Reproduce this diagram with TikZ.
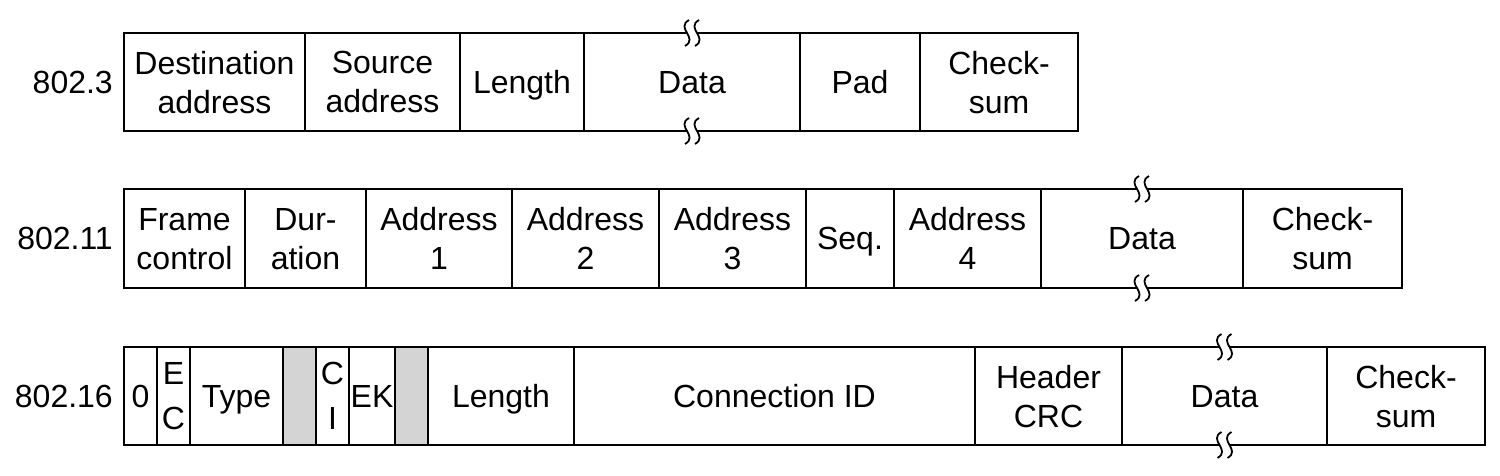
\documentclass[tikz,border=0pt]{standalone}
\usepackage{fontspec}
\setmainfont{Liberation Sans}
\definecolor{unusedgray}{RGB}{212,212,212}
\tikzset{
  brk/.pic={
    \fill[white] (-3,-13) .. controls (-17,-5) and (7,5) .. (-7,13)
      -- (3,13) .. controls (17,5) and (-7,-5) .. (7,-13) -- cycle;
    \draw[line width=1.8pt] (-3,-13) .. controls (-17,-5) and (7,5) .. (-7,13);
    \draw[line width=1.8pt] (7,-13) .. controls (-7,-5) and (17,5) .. (3,13);
  }
}
\begin{document}
\begin{tikzpicture}[x=1pt,y=-1pt,
    field/.style={draw, line width=1.6pt, anchor=west, minimum height=98, inner sep=0pt, outer sep=0pt, align=center, text depth=0pt, font=\fontsize{32}{39}\selectfont},
    tag/.style={anchor=east, inner sep=0pt, font=\fontsize{32}{39}\selectfont},
    unused/.style={fill=unusedgray}]
    \useasboundingbox (0,0) rectangle (1500,476);

    % 802.3
    \node[tag] (r1) at (113,82) {802.3};
    \node[field, minimum width=181] (dst) at (124,82) {Destination\\address};
    \node[field, minimum width=155] (src) at (305,82) {Source\\address};
    \node[field, minimum width=124] (len1) at (460,82) {Length};
    \node[field, minimum width=216] (data1) at (584,82) {Data};
    \node[field, minimum width=120] (pad) at (800,82) {Pad};
    \node[field, minimum width=158] (chk1) at (920,82) {Check-\\sum};
    \pic at (data1.north) {brk};
    \pic at (data1.south) {brk};

    % 802.11
    \node[tag] (r2) at (113,238.5) {802.11};
    \node[field, minimum width=121, minimum height=99] (fc) at (124,238.5) {Frame\\control};
    \node[field, minimum width=121, minimum height=99] (dur) at (245,238.5) {Dur-\\ation};
    \node[field, minimum width=146, minimum height=99] (adr1) at (366,238.5) {Address\\1};
    \node[field, minimum width=147, minimum height=99] (adr2) at (512,238.5) {Address\\2};
    \node[field, minimum width=147, minimum height=99] (adr3) at (659,238.5) {Address\\3};
    \node[field, minimum width=88, minimum height=99] (seq) at (806,238.5) {Seq.};
    \node[field, minimum width=147, minimum height=99] (adr4) at (894,238.5) {Address\\4};
    \node[field, minimum width=202, minimum height=99] (data2) at (1041,238.5) {Data};
    \node[field, minimum width=159, minimum height=99] (chk2) at (1243,238.5) {Check-\\sum};
    \pic at (data2.north) {brk};
    \pic at (data2.south) {brk};

    % 802.16
    \node[tag] (r3) at (113,396) {802.16};
    \node[field, minimum width=33] (zero) at (124,396) {0};
    \node[field, minimum width=33] (ec) at (157,396) {E\\[6pt]C};
    \node[field, minimum width=93] (type) at (190,396) {Type};
    \node[field, unused, minimum width=33] (rsv1) at (283,396) {};
    \node[field, minimum width=33] (ci) at (316,396) {C\\[6pt]I};
    \node[field, minimum width=46] (ek) at (349,396) {EK};
    \node[field, unused, minimum width=33] (rsv2) at (395,396) {};
    \node[field, minimum width=146] (len3) at (428,396) {Length};
    \node[field, minimum width=401] (cid) at (574,396) {Connection ID};
    \node[field, minimum width=147] (hcrc) at (975,396) {Header\\CRC};
    \node[field, minimum width=205] (data3) at (1122,396) {Data};
    \node[field, minimum width=158] (chk3) at (1327,396) {Check-\\sum};
    \pic at (data3.north) {brk};
    \pic at (data3.south) {brk};
\end{tikzpicture}
\end{document}
